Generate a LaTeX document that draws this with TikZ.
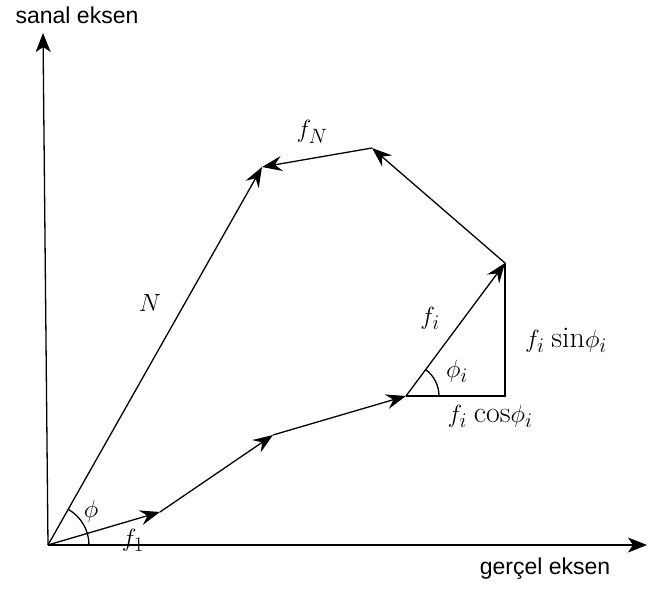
\documentclass[tikz,border=0pt]{standalone}
\usepackage{fontspec}
\usepackage{amsmath}
\newfontfamily\axisfont{Liberation Sans}
\usetikzlibrary{arrows.meta,calc}

\begin{document}
\begin{tikzpicture}[x=1pt, y=-1pt,
  vec/.style={line width=1.3pt, -{Stealth[length=20pt, width=15pt, inset=7pt]}},
  axis/.style={line width=1.3pt, -{Stealth[length=19pt, width=15pt, inset=5pt]}},
  side/.style={line width=1.3pt},
  lbl/.style={font=\fontsize{30}{34}\selectfont, inner sep=0pt},
  axlbl/.style={font=\axisfont\fontsize{23}{27}\selectfont, inner sep=0pt}
]
\useasboundingbox (0,0) rectangle (649,589);

% Points of the polygon
\coordinate (O) at (48,545);
\coordinate (ytop) at (43,33);
\coordinate (xend) at (647,545);
\coordinate (p1) at (160,512);
\coordinate (p2) at (273,435);
\coordinate (p3) at (406,396);
\coordinate (p4) at (505,263);
\coordinate (p5) at (372,148);
\coordinate (p6) at (262,167);
\coordinate (foot) at (505,396);

% Axes
\draw[axis] (O) -- (ytop);
\draw[axis] (O) -- (xend);
\node[axlbl] (lim) at (77,15) {sanal eksen};
\node[axlbl] (lre) at (545,569) {gerçel eksen};

% Vector chain
\draw[vec] (O) -- (p1);
\draw[vec] (p1) -- (p2);
\draw[vec] (p2) -- (p3);
\draw[vec] (p3) -- (p4);
\draw[vec] (p4) -- (p5);
\draw[vec] (p5) -- (p6);
\draw[vec] (O) -- (p6);

% Components of f_i
\draw[side] (p3) -- (foot) -- (p4);

% Angles
\draw[side] ($(O)+(41,0)$) arc[start angle=0, end angle=-60.5, radius=41];
\draw[side] ($(p3)+(33,0)$) arc[start angle=0, end angle=-53.3, radius=33];

% Labels
\node[lbl] (lN) at (150,303) {$N$};
\node[lbl] (lfN) at (312,132) {$f_N$};
\node[lbl] (lphi) at (91,511) {$\phi$};
\node[lbl] (lf1) at (133,540) {$f_1$};
\node[lbl] (lfi) at (430,318) {$f_i$};
\node[lbl] (lphii) at (457,371) {$\phi_i$};
\node[lbl] (lsin) at (566,340) {$f_i\;\mathrm{sin}\phi_i$};
\node[lbl] (lcos) at (490,416) {$f_i\;\mathrm{cos}\phi_i$};

\end{tikzpicture}
\end{document}
